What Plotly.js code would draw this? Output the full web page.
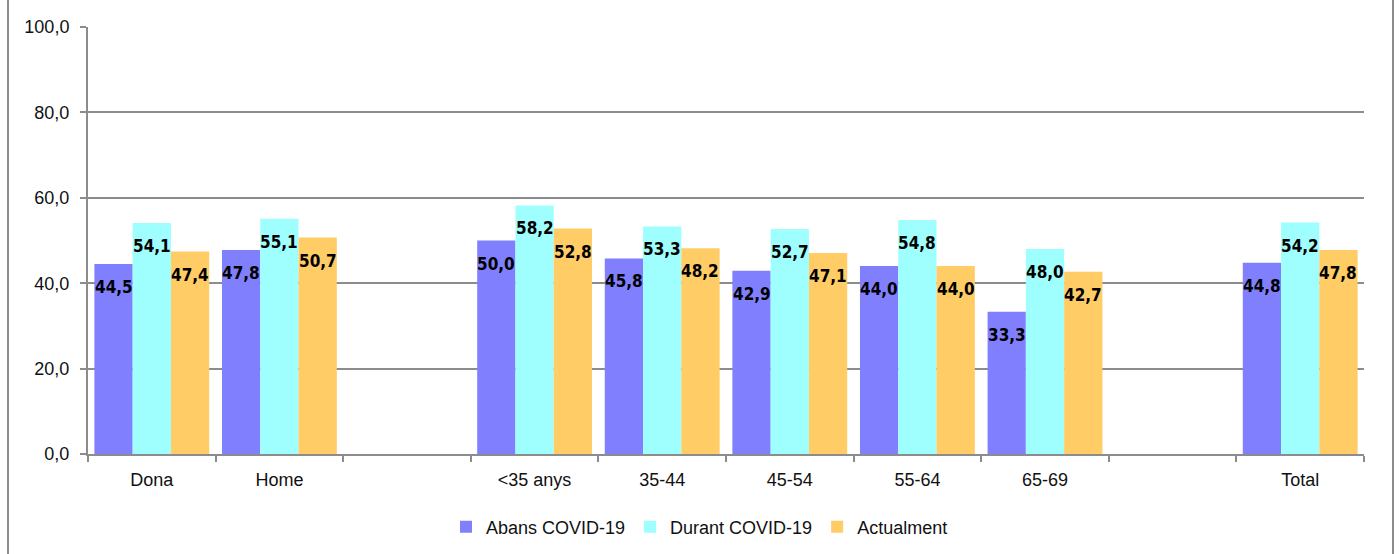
<!DOCTYPE html>
<html>
<head>
<meta charset="utf-8">
<script src="https://cdn.plot.ly/plotly-3.0.1.min.js"></script>
<style>
  html, body { margin: 0; padding: 0; background: #fff; }
  #wrap { position: relative; width: 1399px; height: 554px; }
  #chart { width: 1399px; height: 554px; }
  .frameL { position: absolute; left: 7px; top: 0; width: 2px; height: 554px; background: #8c8c8c; }
  .frameR { position: absolute; left: 1392px; top: 0; width: 2px; height: 554px; background: #8c8c8c; }
</style>
</head>
<body>
<div id="wrap">
  <div id="chart"></div>
  <div class="frameL"></div>
  <div class="frameR"></div>
</div>
<script>
// Categories (blank slots are empty groups in the original chart)
const categories = ['Dona', 'Home', ' ', '<35 anys', '35-44', '45-54', '55-64', '65-69', '  ', 'Total'];
const seriesNames = ['Abans COVID-19', 'Durant COVID-19', 'Actualment'];
const abans   = [44.5, 47.8, null, 50.0, 45.8, 42.9, 44.0, 33.3, null, 44.8];
const durant  = [54.1, 55.1, null, 58.2, 53.3, 52.7, 54.8, 48.0, null, 54.2];
const actual  = [47.4, 50.7, null, 52.8, 48.2, 47.1, 44.0, 42.7, null, 47.8];
const yTicks  = [0, 20, 40, 60, 80, 100];

const colors = ['#8080FF', '#9FFFFF', '#FFCC66'];
const series = [abans, durant, actual];

const fmt = v => v.toFixed(1).replace('.', ',');

const traces = series.map((vals, s) => ({
  type: 'bar',
  name: seriesNames[s],
  x: categories,
  y: vals,
  marker: { color: colors[s], line: { width: 0 } },
  hoverinfo: 'skip'
}));

const barW = 127.6 * 0.9 / 3;
const annotations = [];
series.forEach((vals, s) => {
  vals.forEach((v, i) => {
    if (v === null) return;
    annotations.push({
      x: categories[i], y: v, xref: 'x', yref: 'y',
      text: fmt(v), showarrow: false,
      yanchor: 'top', xanchor: 'center',
      xshift: (s - 1) * barW, yshift: -11,
      font: { family: '"DejaVu Sans Condensed", "Liberation Sans", Arial, sans-serif', size: 17, color: '#000', weight: 'bold' }
    });
  });
});

const layout = {
  width: 1399, height: 554,
  margin: { l: 88, r: 35, t: 27, b: 100 },
  paper_bgcolor: '#fff', plot_bgcolor: '#fff',
  separators: ',.',
  barmode: 'group', bargap: 0.1, bargroupgap: 0,
  font: { family: '"Liberation Sans", Arial, sans-serif', size: 18, color: '#111' },
  xaxis: {
    type: 'category',
    categoryorder: 'array', categoryarray: categories,
    tickson: 'boundaries',
    ticks: 'outside', ticklen: 6, tickwidth: 2, tickcolor: '#8c8c8c',
    showline: true, linecolor: '#8c8c8c', linewidth: 2,
    showgrid: false, zeroline: false,
    tickfont: { size: 18, color: '#111' },
    ticklabelstandoff: 8,
    automargin: false,
    fixedrange: true
  },
  yaxis: {
    range: [0, 100],
    tickvals: yTicks, tickformat: '.1f',
    ticks: 'outside', ticklen: 6, tickwidth: 2, tickcolor: '#8c8c8c',
    showline: true, linecolor: '#8c8c8c', linewidth: 2,
    showgrid: true, gridcolor: '#8c8c8c', gridwidth: 2,
    zeroline: false,
    tickfont: { size: 18, color: '#111' },
    ticklabelstandoff: 7,
    automargin: false,
    fixedrange: true
  },
  legend: {
    orientation: 'h', xref: 'container', yref: 'container',
    x: 0.5, xanchor: 'center', y: 1 - 527 / 554, yanchor: 'middle',
    font: { size: 18, color: '#111' },
    itemclick: false, itemdoubleclick: false
  },
  annotations: annotations,
  showlegend: true
};

Plotly.newPlot('chart', traces, layout, { displayModeBar: false, staticPlot: true });
</script>
</body>
</html>
